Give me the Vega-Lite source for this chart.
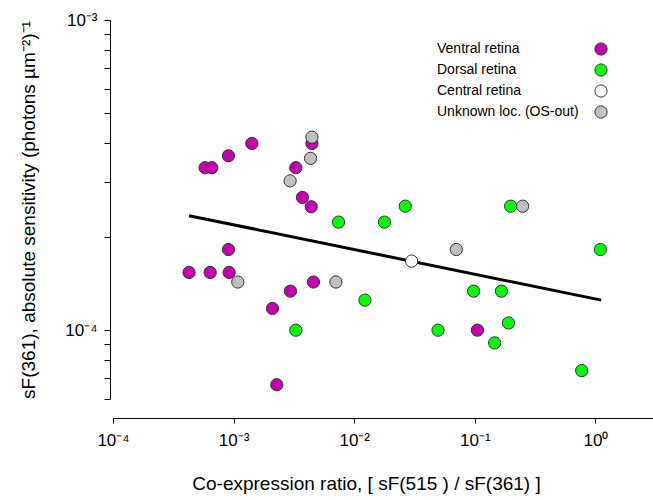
{
  "$schema": "https://vega.github.io/schema/vega-lite/v6.json",
  "width": 540,
  "height": 379,
  "autosize": {"type": "none"},
  "padding": {"left": 113, "top": 20, "right": 0, "bottom": 101},
  "config": {
    "view": {"stroke": null},
    "font": "Liberation Sans",
    "axis": {
      "grid": false,
      "domainColor": "#000",
      "tickColor": "#000",
      "labelColor": "#000",
      "titleColor": "#000",
      "labelFont": "Liberation Sans",
      "titleFont": "Liberation Sans",
      "titleFontWeight": "normal",
      "labelOverlap": false,
      "labelBound": false,
      "labelFlush": false
    }
  },
  "encoding": {
    "x": {
      "field": "ratio",
      "type": "quantitative",
      "scale": {"type": "log", "domain": [0.0001, 3]},
      "axis": {
        "offset": 19,
        "tickSize": 5,
        "values": [0.0001, 0.001, 0.01, 0.1, 1],
        "labelExpr": "datum.value < 0.0005 ? '10⁻⁴' : datum.value < 0.005 ? '10⁻³' : datum.value < 0.05 ? '10⁻²' : datum.value < 0.5 ? '10⁻¹' : '10⁰'",
        "labelFontSize": 17,
        "labelPadding": 9,
        "title": "Co-expression ratio,  [ sF(515 ) / sF(361) ]",
        "titleFontSize": 19,
        "titlePadding": 26,
        "titleX": 253
      }
    },
    "y": {
      "field": "sens",
      "type": "quantitative",
      "scale": {"type": "log", "domain": [0.00006, 0.001], "nice": false},
      "axis": {
        "offset": 3,
        "tickSize": 6,
        "tickWidth": 1,
        "values": [0.0000601, 0.00007, 0.00008, 0.00009, 0.0001, 0.0002, 0.0003, 0.0004, 0.0005, 0.0006, 0.0007, 0.0008, 0.0009, 0.000999],
        "labelExpr": "datum.value > 0.00095 ? '10⁻³' : (datum.value > 0.000095 && datum.value < 0.000105) ? '10⁻⁴' : ''",
        "labelFontSize": 17,
        "labelPadding": 7,
        "title": "sF(361), absolute sensitivity (photons µm⁻²)⁻¹",
        "titleFontSize": 19,
        "titlePadding": 26
      }
    }
  },
  "layer": [
    {
      "data": {"values": [
        {"ratio": 0.000427, "sens": 0.000234},
        {"ratio": 1.115, "sens": 0.000125}
      ]},
      "mark": {"type": "line", "color": "#000", "strokeWidth": 3}
    },
    {
      "data": {"values": [
        {"loc": "Unknown loc. (OS-out)", "ratio": 0.00294, "sens": 0.000303},
        {"loc": "Ventral retina", "ratio": 0.000427, "sens": 0.0001535},
        {"loc": "Ventral retina", "ratio": 0.000639, "sens": 0.0001535},
        {"loc": "Ventral retina", "ratio": 0.000918, "sens": 0.0001535},
        {"loc": "Ventral retina", "ratio": 0.000906, "sens": 0.000182},
        {"loc": "Ventral retina", "ratio": 0.00058, "sens": 0.000334},
        {"loc": "Ventral retina", "ratio": 0.000659, "sens": 0.000334},
        {"loc": "Ventral retina", "ratio": 0.000906, "sens": 0.000365},
        {"loc": "Ventral retina", "ratio": 0.001416, "sens": 0.0004},
        {"loc": "Ventral retina", "ratio": 0.00446, "sens": 0.0004},
        {"loc": "Ventral retina", "ratio": 0.00328, "sens": 0.000334},
        {"loc": "Ventral retina", "ratio": 0.00372, "sens": 0.000268},
        {"loc": "Ventral retina", "ratio": 0.0044, "sens": 0.00025},
        {"loc": "Ventral retina", "ratio": 0.00459, "sens": 0.000143},
        {"loc": "Ventral retina", "ratio": 0.00296, "sens": 0.0001336},
        {"loc": "Ventral retina", "ratio": 0.0021, "sens": 0.0001175},
        {"loc": "Ventral retina", "ratio": 0.00228, "sens": 0.0000667},
        {"loc": "Ventral retina", "ratio": 0.105, "sens": 0.0001},
        {"loc": "Dorsal retina", "ratio": 0.00328, "sens": 0.0001},
        {"loc": "Dorsal retina", "ratio": 0.00741, "sens": 0.000223},
        {"loc": "Dorsal retina", "ratio": 0.0178, "sens": 0.000223},
        {"loc": "Dorsal retina", "ratio": 0.0265, "sens": 0.000251},
        {"loc": "Dorsal retina", "ratio": 0.01227, "sens": 0.000125},
        {"loc": "Dorsal retina", "ratio": 0.0495, "sens": 0.0001},
        {"loc": "Dorsal retina", "ratio": 0.0977, "sens": 0.0001336},
        {"loc": "Dorsal retina", "ratio": 0.166, "sens": 0.0001336},
        {"loc": "Dorsal retina", "ratio": 0.198, "sens": 0.000251},
        {"loc": "Dorsal retina", "ratio": 1.1, "sens": 0.000182},
        {"loc": "Dorsal retina", "ratio": 0.19, "sens": 0.0001055},
        {"loc": "Dorsal retina", "ratio": 0.146, "sens": 0.000091},
        {"loc": "Dorsal retina", "ratio": 0.769, "sens": 0.0000741},
        {"loc": "Unknown loc. (OS-out)", "ratio": 0.00446, "sens": 0.000419},
        {"loc": "Unknown loc. (OS-out)", "ratio": 0.00434, "sens": 0.000358},
        {"loc": "Unknown loc. (OS-out)", "ratio": 0.001083, "sens": 0.000143},
        {"loc": "Unknown loc. (OS-out)", "ratio": 0.00705, "sens": 0.000143},
        {"loc": "Unknown loc. (OS-out)", "ratio": 0.0702, "sens": 0.000182},
        {"loc": "Unknown loc. (OS-out)", "ratio": 0.249, "sens": 0.000251},
        {"loc": "Central retina", "ratio": 0.0299, "sens": 0.000167}
      ]},
      "mark": {"type": "circle", "size": 150, "opacity": 1, "stroke": "#333", "strokeWidth": 1},
      "encoding": {
        "color": {
          "field": "loc",
          "type": "nominal",
          "scale": {
            "domain": ["Ventral retina", "Dorsal retina", "Central retina", "Unknown loc. (OS-out)"],
            "range": ["#C400B0", "#00FF00", "#FFFFFF", "#C0C0C0"]
          },
          "legend": {
            "orient": "none",
            "legendX": 481,
            "legendY": 22,
            "title": null,
            "padding": 0,
            "labelFontSize": 14,
            "labelFont": "Liberation Sans",
            "labelColor": "#000",
            "labelAlign": "left",
            "labelOffset": -171,
            "symbolType": "circle",
            "symbolSize": 150,
            "symbolStrokeColor": "#333",
            "symbolStrokeWidth": 1,
            "symbolOpacity": 1,
            "rowPadding": 3
          }
        }
      }
    }
  ]
}
